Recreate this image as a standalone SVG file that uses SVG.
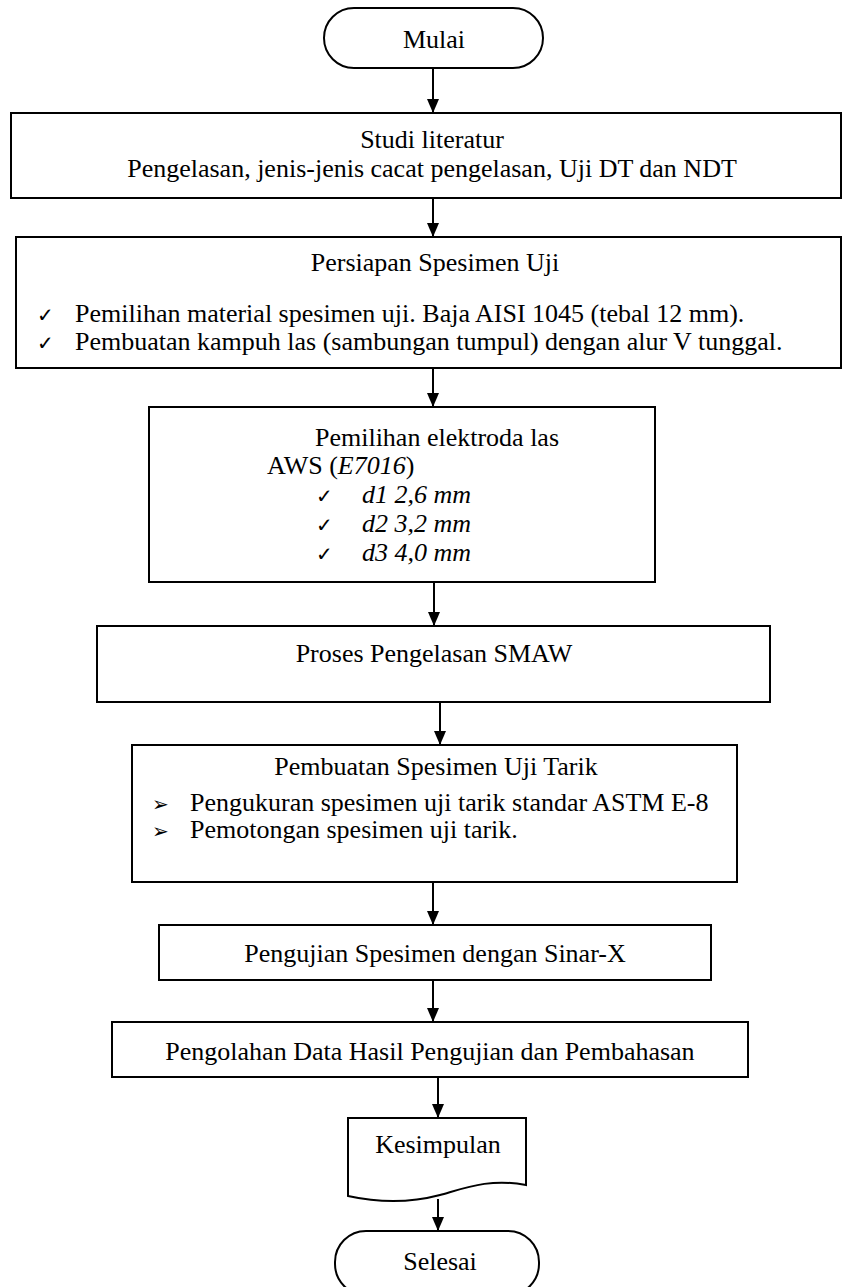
<svg xmlns="http://www.w3.org/2000/svg" width="845" height="1287" viewBox="0 0 845 1287">
<defs>
<marker id="ah" markerWidth="14" markerHeight="12" refX="14" refY="6" orient="auto" markerUnits="userSpaceOnUse" viewBox="0 0 14 12">
<path d="M0,0 L14,6 L0,12 Z" fill="#000"/>
</marker>
</defs>
<style>
.box{fill:#fff;stroke:#000;stroke-width:2}
.t{font-family:"Liberation Serif","Times New Roman",serif;font-size:26px;fill:#000}
.c{text-anchor:middle}
.i{font-style:italic}
.sym{font-family:"DejaVu Sans",sans-serif;font-size:20px;fill:#000}
.con line{stroke:#000;stroke-width:2}
</style>
<rect width="845" height="1287" fill="#fff"/>
<g id="mulai">
<rect class="box" x="324" y="8" width="219" height="60" rx="30" ry="30"/>
<text class="t c" x="434" y="48">Mulai</text>
</g>
<g id="studi">
<rect class="box" x="11" y="113" width="830" height="85"/>
<text class="t c" x="432" y="148">Studi literatur</text>
<text class="t c" x="432" y="177">Pengelasan, jenis-jenis cacat pengelasan, Uji DT dan NDT</text>
</g>
<g id="persiapan">
<rect class="box" x="16" y="237" width="825" height="131"/>
<text class="t c" x="435" y="271">Persiapan Spesimen Uji</text>
<text class="sym" x="37" y="322">✓</text>
<text class="t" x="75" y="322">Pemilihan material spesimen uji. Baja AISI 1045 (tebal 12 mm).</text>
<text class="sym" x="37" y="350">✓</text>
<text class="t" x="75" y="350">Pembuatan kampuh las (sambungan tumpul) dengan alur V tunggal.</text>
</g>
<g id="pemilihan">
<rect class="box" x="149" y="407" width="506" height="175"/>
<text class="t c" x="437" y="446">Pemilihan elektroda las</text>
<text class="t" x="267" y="474">AWS (<tspan class="i">E7016</tspan>)</text>
<text class="sym" x="316" y="503">✓</text>
<text class="t i" x="362" y="503">d1 2,6 mm</text>
<text class="sym" x="316" y="532">✓</text>
<text class="t i" x="362" y="532">d2 3,2 mm</text>
<text class="sym" x="316" y="561">✓</text>
<text class="t i" x="362" y="561">d3 4,0 mm</text>
</g>
<g id="proses">
<rect class="box" x="97" y="626" width="673" height="76"/>
<text class="t c" x="434" y="662">Proses Pengelasan SMAW</text>
</g>
<g id="pembuatan">
<rect class="box" x="132" y="745" width="605" height="137"/>
<text class="t c" x="436" y="775">Pembuatan Spesimen Uji Tarik</text>
<text class="sym" x="152" y="811">➢</text>
<text class="t" x="190" y="811">Pengukuran spesimen uji tarik standar ASTM E-8</text>
<text class="sym" x="152" y="838">➢</text>
<text class="t" x="190" y="838">Pemotongan spesimen uji tarik.</text>
</g>
<g id="pengujian">
<rect class="box" x="159" y="925" width="552" height="55"/>
<text class="t c" x="435" y="962">Pengujian Spesimen dengan Sinar-X</text>
</g>
<g id="pengolahan">
<rect class="box" x="112" y="1022" width="636" height="55"/>
<text class="t c" x="430" y="1060">Pengolahan Data Hasil Pengujian dan Pembahasan</text>
</g>
<g id="kesimpulan">
<path class="box" d="M348,1118 L526,1118 L526,1185 C490,1178 465,1188 440,1195 C410,1203 380,1203 348,1196 Z"/>
<text class="t c" x="438" y="1153">Kesimpulan</text>
</g>
<g id="selesai">
<rect class="box" x="335" y="1231" width="204" height="64" rx="31" ry="31"/>
<text class="t c" x="440" y="1270">Selesai</text>
</g>
<g class="con">
<line x1="433" y1="68" x2="433" y2="113" marker-end="url(#ah)"/>
<line x1="433" y1="198" x2="433" y2="237" marker-end="url(#ah)"/>
<line x1="433" y1="368" x2="433" y2="407" marker-end="url(#ah)"/>
<line x1="434" y1="582" x2="434" y2="626" marker-end="url(#ah)"/>
<line x1="440" y1="702" x2="440" y2="745" marker-end="url(#ah)"/>
<line x1="433" y1="882" x2="433" y2="925" marker-end="url(#ah)"/>
<line x1="433" y1="980" x2="433" y2="1022" marker-end="url(#ah)"/>
<line x1="438" y1="1077" x2="438" y2="1118" marker-end="url(#ah)"/>
<line x1="438" y1="1199" x2="438" y2="1231" marker-end="url(#ah)"/>
</g>
</svg>
